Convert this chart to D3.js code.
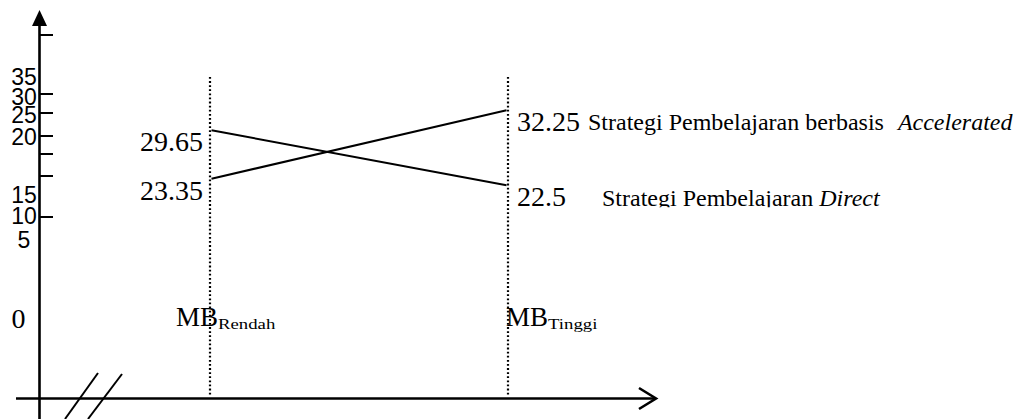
<!DOCTYPE html>
<html>
<head>
<meta charset="utf-8">
<script src="https://cdn.jsdelivr.net/npm/d3@7"></script>
<style>
  html, body { margin: 0; padding: 0; background: #fff; }
  svg { display: block; }
</style>
</head>
<body>
<svg id="chart" width="1016" height="419"></svg>
<script>
// ---------- data ----------
const groups = ["Rendah", "Tinggi"];
const groupPrefix = "MB";
const acceleratedValues = [23.35, 32.25];
const directValues = [29.65, 22.5];
const acceleratedName = ["Strategi Pembelajaran berbasis", "Accelerated"];
const directName = ["Strategi Pembelajaran", "Direct"];
const yTickLabels = ["35", "30", "25", "20", "15", "10", "5"];
const zeroLabel = "0";

// ---------- layout (positions / styles only) ----------
const W = 1016, H = 419;
const axisX = 39.5, axisY = 398.5;
const yLabelBaselines = [85, 105, 123, 145, 203, 224, 248];
const yTickMarks = [35, 94, 113, 136, 154, 176, 217];
const serif = "'Liberation Serif', 'Times New Roman', serif";
const sans = "'Liberation Sans', Arial, sans-serif";

const svg = d3.select("#chart");
svg.append("rect").attr("width", W).attr("height", H).attr("fill", "#fff");

const x = d3.scalePoint().domain(groups).range([210, 508]);
const y = d3.scaleLinear().domain([20, 35]).range([204.5, 89.1]);

// ---------- axes ----------
svg.append("line").attr("x1", axisX).attr("x2", axisX).attr("y1", 24).attr("y2", H)
  .attr("stroke", "#000").attr("stroke-width", 2.6);
svg.append("path").attr("d", `M${axisX},10 L${axisX - 7.5},26 L${axisX + 7.5},26 Z`).attr("fill", "#000");
svg.append("line").attr("x1", 16).attr("x2", 655).attr("y1", axisY).attr("y2", axisY)
  .attr("stroke", "#000").attr("stroke-width", 2.6);
svg.append("path").attr("d", `M639,388 L656,${axisY} L639,409`)
  .attr("fill", "none").attr("stroke", "#000").attr("stroke-width", 2.6);
// axis break marks
[[65, 419, 98, 373], [88, 419, 122, 374]].forEach(d => {
  svg.append("line").attr("x1", d[0]).attr("y1", d[1]).attr("x2", d[2]).attr("y2", d[3])
    .attr("stroke", "#000").attr("stroke-width", 2);
});

// y tick dashes
svg.selectAll(".tick").data(yTickMarks).enter().append("line")
  .attr("x1", axisX).attr("x2", 53).attr("y1", d => d).attr("y2", d => d)
  .attr("stroke", "#000").attr("stroke-width", 2);

// y tick labels
svg.selectAll(".ylab").data(yTickLabels).enter().append("text")
  .attr("x", 24).attr("y", (d, i) => yLabelBaselines[i])
  .attr("text-anchor", "middle").attr("font-family", sans).attr("font-size", 23)
  .attr("fill", "#000").text(d => d);
svg.append("text").attr("x", 18.5).attr("y", 328).attr("text-anchor", "middle")
  .attr("font-family", serif).attr("font-size", 28).text(zeroLabel);

// ---------- dotted group guides ----------
svg.selectAll(".guide").data(groups).enter().append("line")
  .attr("x1", d => x(d)).attr("x2", d => x(d)).attr("y1", 77).attr("y2", 396)
  .attr("stroke", "#000").attr("stroke-width", 2.2).attr("stroke-dasharray", "1.8 2.3");

// group labels
const mbOffsets = [-34, -2];
groups.forEach((g, i) => {
  const t = svg.append("text").attr("x", x(g) + mbOffsets[i]).attr("y", 326)
    .attr("font-family", serif).attr("font-size", 27).text(groupPrefix);
  const w = t.node().getComputedTextLength();
  const s = svg.append("text").attr("x", x(g) + mbOffsets[i] + w).attr("y", 329)
    .attr("font-family", serif).attr("font-size", 15).text(g);
  const sw = s.node().getComputedTextLength();
  s.attr("textLength", sw * 1.25).attr("lengthAdjust", "spacingAndGlyphs");
});

// ---------- series lines ----------
const line = d3.line().x((d, i) => x(groups[i]) + (i === 0 ? 1.5 : -1.5)).y(d => y(d));
[acceleratedValues, directValues].forEach(vals => {
  svg.append("path").attr("d", line(vals)).attr("fill", "none")
    .attr("stroke", "#000").attr("stroke-width", 2);
});

// ---------- value labels ----------
const defs = svg.append("defs");
let clipId = 0;
function clipBelow(sel, yb) {
  const id = "clip" + (clipId++);
  defs.append("clipPath").attr("id", id).append("rect")
    .attr("x", 0).attr("y", 0).attr("width", W).attr("height", yb);
  sel.attr("clip-path", `url(#${id})`);
}
const labelDy = 21;
[acceleratedValues, directValues].forEach((vals, si) => {
  const yl = y(vals[0]) + labelDy;
  const tl = svg.append("text").attr("x", x(groups[0]) - 7).attr("y", yl)
    .attr("text-anchor", "end").attr("font-family", serif).attr("font-size", 28)
    .text(String(vals[0]));
  clipBelow(tl, yl + 0.5);
  const yr = y(vals[1]) + labelDy;
  const tr = svg.append("text").attr("x", x(groups[1]) + 9).attr("y", yr)
    .attr("font-family", serif).attr("font-size", 28).text(String(vals[1]));
  clipBelow(tr, yr + 0.5);
});

// series names
const yA = y(acceleratedValues[1]) + labelDy - 1;
const nameA = svg.append("text").attr("x", 588).attr("y", yA)
  .attr("font-family", serif).attr("font-size", 24);
nameA.append("tspan").text(acceleratedName[0]);
nameA.append("tspan").attr("dx", 14).attr("font-style", "italic").text(acceleratedName[1]);

const yD = y(directValues[1]) + labelDy;
const nameD = svg.append("text").attr("x", 602).attr("y", yD)
  .attr("font-family", serif).attr("font-size", 24);
nameD.append("tspan").text(directName[0] + " ");
nameD.append("tspan").attr("font-style", "italic").text(directName[1]);
clipBelow(nameD, yD + 1);
</script>
</body>
</html>
